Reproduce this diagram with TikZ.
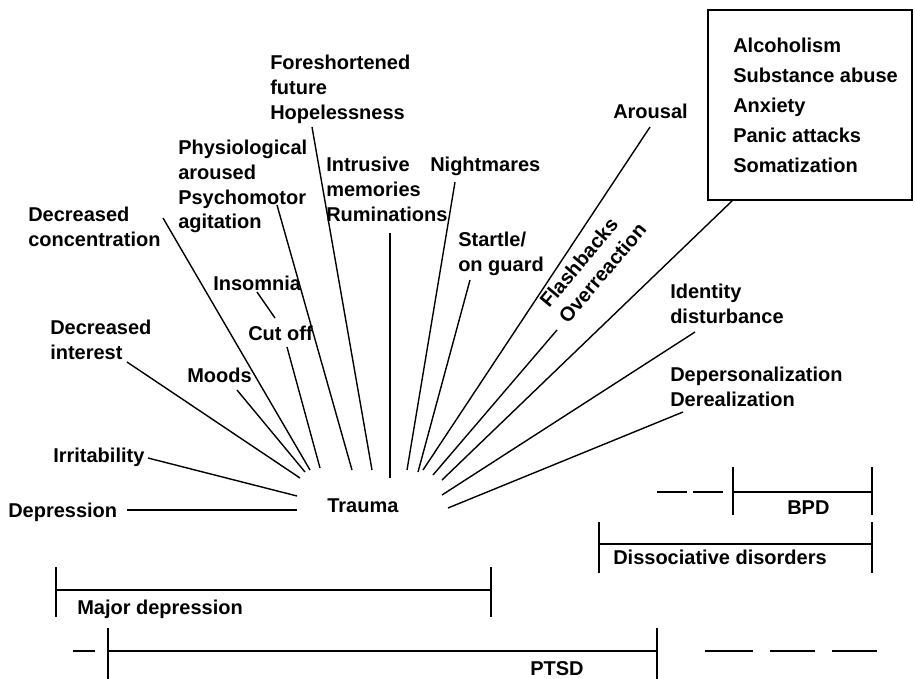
\documentclass[tikz,border=0pt]{standalone}
\usepackage{fontspec}
\setmainfont{Liberation Sans}
\begin{document}
\begin{tikzpicture}[x=0.75pt,y=-0.75pt,
  lab/.style={font=\fontsize{15}{18.5}\selectfont\bfseries, inner sep=0pt, anchor=north west, align=left},
  conn/.style={line width=1.05pt},
  brk/.style={line width=1.5pt}]
\useasboundingbox (0,0) rectangle (915,679);
% labels
\node[lab] (fore) at (270,55) {Foreshortened\\future\\Hopelessness};
\node[lab] (phys) at (178,140) {Physiological\\aroused\\Psychomotor\\agitation};
\node[lab] (intr) at (326,157) {Intrusive\\memories\\Ruminations};
\node[lab] (night) at (430,157) {Nightmares};
\node[lab] (deccon) at (28,207) {Decreased\\concentration};
\node[lab] (startle) at (458,232) {Startle/\\on guard};
\node[lab] (arousal) at (613,104) {Arousal};
\node[lab] (insom) at (213,276) {Insomnia};
\node[lab] (cutoff) at (248,326) {Cut off};
\node[lab] (decint) at (50,320) {Decreased\\interest};
\node[lab] (moods) at (187,368) {Moods};
\node[lab] (irr) at (53,448) {Irritability};
\node[lab] (depr) at (8,503) {Depression};
\node[lab] (trauma) at (327,498) {Trauma};
\node[lab] (ident) at (670,284) {Identity\\disturbance};
\node[lab] (depers) at (670,367) {Depersonalization\\Derealization};
\node[lab, rotate=50, anchor=base west] (flash) at (549,309) {Flashbacks};
\node[lab, rotate=50, anchor=base west] (over) at (568,325) {Overreaction};
% box
\draw[line width=1.8pt] (708,10) rectangle (912,200);
\node[lab] (alc) at (733,38) {Alcoholism};
\node[lab] (subst) at (733,68) {Substance abuse};
\node[lab] (anx) at (733,98) {Anxiety};
\node[lab] (panic) at (733,128) {Panic attacks};
\node[lab] (somat) at (733,158) {Somatization};
% bracket labels
\node[lab] (bpd) at (787,500) {BPD};
\node[lab] (diss) at (613,550) {Dissociative disorders};
\node[lab] (majdep) at (77,600) {Major depression};
\node[lab] (ptsd) at (530,661) {PTSD};
% connector end points
\coordinate (a1) at (127,510); \coordinate (b1) at (297,510);
\coordinate (a2) at (148,458); \coordinate (b2) at (297,496);
\coordinate (a3) at (127,362); \coordinate (b3) at (300,478);
\coordinate (a4) at (237,390); \coordinate (b4) at (305,472);
\coordinate (a5) at (163,218); \coordinate (b5) at (310,470);
\coordinate (a6) at (287,347); \coordinate (b6) at (320,468);
\coordinate (a7) at (257,292); \coordinate (b7) at (275,318);
\coordinate (a8) at (277,205); \coordinate (b8) at (352,470);
\coordinate (a9) at (312,127); \coordinate (b9) at (372,470);
\coordinate (a10) at (390,233); \coordinate (b10) at (390,478);
\coordinate (a11) at (455,182); \coordinate (b11) at (407,470);
\coordinate (a12) at (470,280); \coordinate (b12) at (418,472);
\coordinate (a13) at (650,127); \coordinate (b13) at (423,470);
\coordinate (a14) at (557,330); \coordinate (b14) at (433,475);
\coordinate (a15) at (733,200); \coordinate (b15) at (442,480);
\coordinate (a16) at (695,332); \coordinate (b16) at (442,495);
\coordinate (a17) at (683,412); \coordinate (b17) at (448,508);
\foreach \i in {1,...,17} { \draw[conn] (a\i) -- (b\i); }
% brackets
\coordinate (bpdL) at (733,492); \coordinate (bpdR) at (872,492);
\draw[brk] (bpdL) -- (bpdR);
\draw[brk] (733,467) -- (733,515);
\draw[brk] (872,467) -- (872,515);
\draw[brk] (657,492) -- (687,492);
\draw[brk] (693,492) -- (723,492);
\coordinate (disL) at (599,544); \coordinate (disR) at (872,544);
\draw[brk] (disL) -- (disR);
\draw[brk] (599,522) -- (599,573);
\draw[brk] (872,522) -- (872,573);
\coordinate (mdL) at (56,590); \coordinate (mdR) at (491,590);
\draw[brk] (mdL) -- (mdR);
\draw[brk] (56,567) -- (56,617);
\draw[brk] (491,567) -- (491,617);
\coordinate (ptL) at (108,651); \coordinate (ptR) at (657,651);
\draw[brk] (ptL) -- (ptR);
\draw[brk] (108,628) -- (108,679);
\draw[brk] (657,628) -- (657,679);
\draw[brk] (73,651) -- (95,651);
\draw[brk] (705,651) -- (753,651);
\draw[brk] (770,651) -- (815,651);
\draw[brk] (832,651) -- (877,651);
\end{tikzpicture}
\end{document}
